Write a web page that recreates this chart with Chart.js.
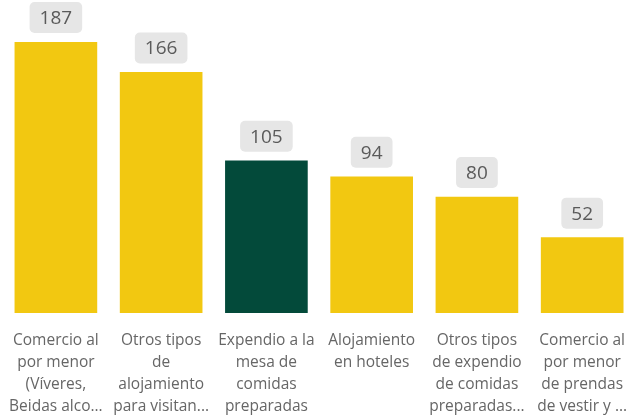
<!DOCTYPE html>
<html>
<head>
<meta charset="utf-8">
<script src="https://cdn.jsdelivr.net/npm/chart.js@4/dist/chart.umd.min.js"></script>
<style>
  html, body { margin: 0; padding: 0; background: #fff; overflow: hidden; }
  canvas { position: absolute; left: 0; top: 0; }
</style>
</head>
<body>
<canvas id="chart" width="636" height="418"></canvas>
<script>
// categories, split in lines the way the labels wrap
const categories = [
  ['Comercio al', 'por menor', '(Víveres,', 'Beidas alco...'],
  ['Otros tipos', 'de', 'alojamiento', 'para visitan...'],
  ['Expendio a la', 'mesa de', 'comidas', 'preparadas'],
  ['Alojamiento', 'en hoteles'],
  ['Otros tipos', 'de expendio', 'de comidas', 'preparadas...'],
  ['Comercio al', 'por menor', 'de prendas', 'de vestir y ...']
];
const values = [187, 166, 105, 94, 80, 52];
const highlight = [false, false, true, false, false, false];

const yellow = '#F2C811';
const green = '#034A3A';

// grey rounded boxes with the value above each bar
const valueBoxes = {
  id: 'valueBoxes',
  afterDatasetsDraw(chart) {
    const ctx = chart.ctx;
    const meta = chart.getDatasetMeta(0);
    ctx.save();
    ctx.font = '19px "Open Sans"';
    ctx.textAlign = 'center';
    ctx.textBaseline = 'middle';
    meta.data.forEach((bar, i) => {
      const txt = String(values[i]);
      const w = ctx.measureText(txt).width + 20;
      const h = 31;
      const x = bar.x - w / 2;
      const y = bar.y - 9 - h;
      ctx.fillStyle = '#E6E6E6';
      ctx.beginPath();
      ctx.roundRect(x, y, w, h, 5);
      ctx.fill();
      ctx.fillStyle = '#5A5A5A';
      ctx.fillText(txt, bar.x, y + h / 2 + 1);
    });
    ctx.restore();
  }
};

new Chart(document.getElementById('chart'), {
  type: 'bar',
  data: {
    labels: categories,
    datasets: [{
      data: values,
      backgroundColor: highlight.map(h => h ? green : yellow),
      barThickness: 82
    }]
  },
  options: {
    responsive: false,
    animation: false,
    layout: { padding: { left: 1, right: 1, top: 42, bottom: 0 } },
    plugins: {
      legend: { display: false },
      tooltip: { enabled: false }
    },
    scales: {
      x: {
        grid: { display: false },
        border: { display: false },
        ticks: {
          color: '#666666',
          font: { family: 'Open Sans', size: 15.5, lineHeight: 1.42 },
          padding: 9,
          maxRotation: 0,
          autoSkip: false
        },
        afterFit(scale) { scale.height = 105; }
      },
      y: {
        display: false,
        min: 0,
        max: 187
      }
    }
  },
  plugins: [valueBoxes]
});
</script>
</body>
</html>
